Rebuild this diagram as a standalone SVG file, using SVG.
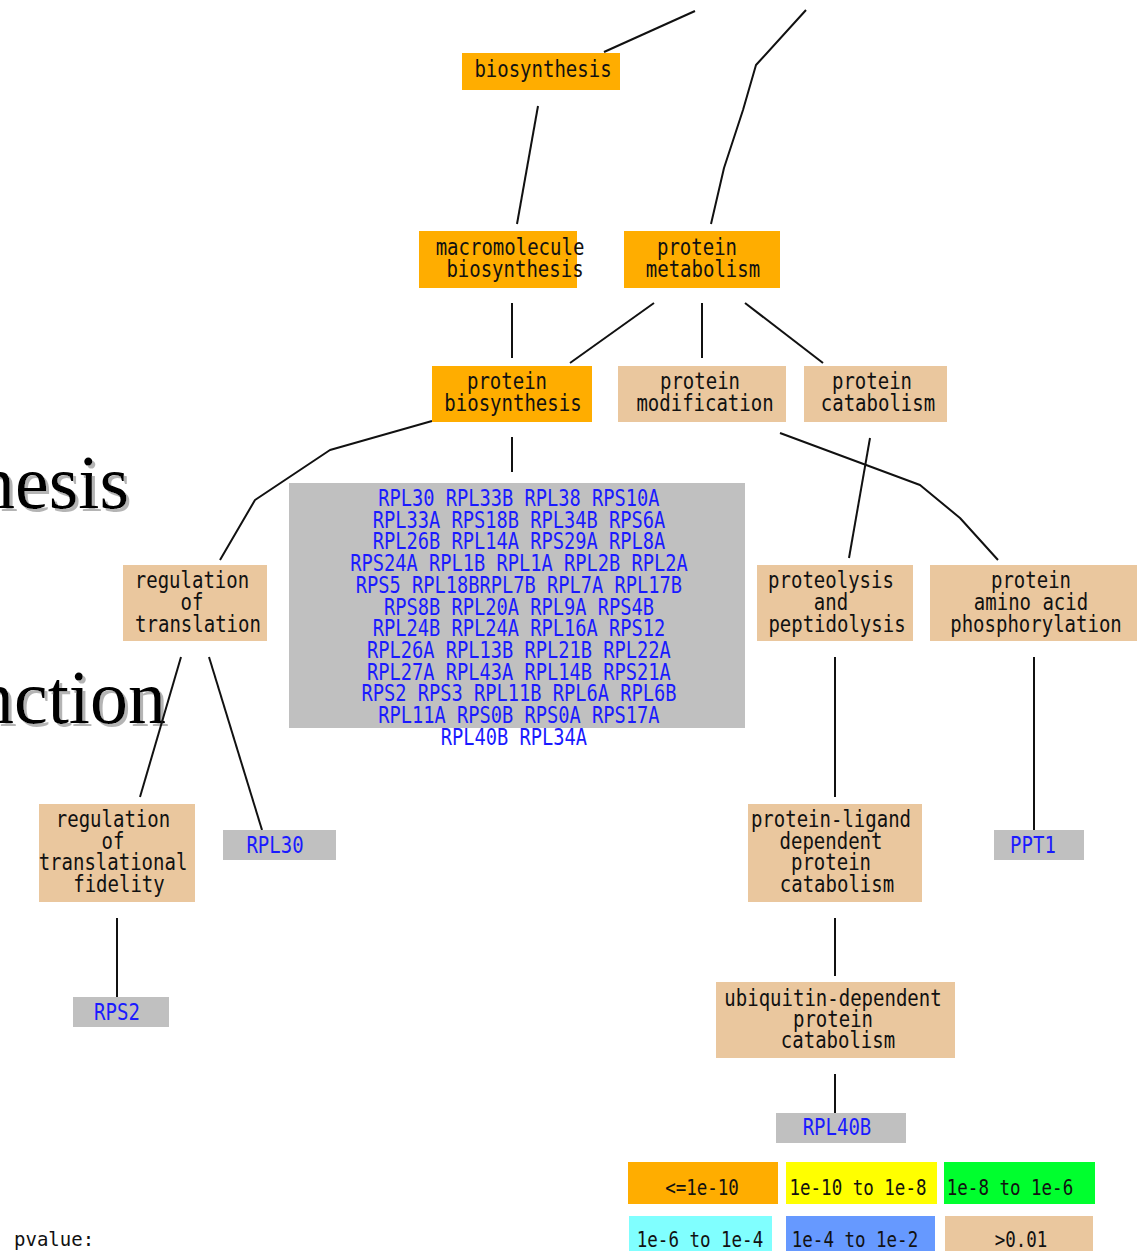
<svg xmlns="http://www.w3.org/2000/svg" width="1137" height="1251" viewBox="0 0 1137 1251">
  <style>
    .sig { fill: #ffad00; }
    .ns { fill: #eac79e; }
    .gene { fill: #c0c0c0; }
    .lbl { font-family: "DejaVu Sans Mono", "Liberation Mono", monospace; font-size: 19px; fill: #111; text-anchor: middle; }
    .glbl { font-family: "DejaVu Sans Mono", "Liberation Mono", monospace; font-size: 19px; fill: #1a1aff; text-anchor: middle; }
    .glist { font-size: 18.7px; }
    .leg { font-family: "DejaVu Sans Mono", "Liberation Mono", monospace; font-size: 17.5px; fill: #111; text-anchor: middle; }
    .big { font-family: "Liberation Serif", "Times New Roman", serif; font-size: 76px; fill: #000; filter: url(#shadow); }
    .edge { fill: none; stroke: #111; stroke-width: 2; stroke-linejoin: round; }
  </style>
  <defs>
    <filter id="shadow" x="-5%" y="-10%" width="115%" height="130%">
      <feOffset in="SourceAlpha" dx="3" dy="3" result="off"/>
      <feFlood flood-color="#b4b4b4"/>
      <feComposite in2="off" operator="in" result="sh"/>
      <feMerge><feMergeNode in="sh"/><feMergeNode in="SourceGraphic"/></feMerge>
    </filter>
  </defs>

  <rect width="1137" height="1251" fill="#ffffff"/>

  <!-- slide title fragments behind the graph -->
  <g id="title-fragments">
    <text class="big" x="-23" y="508">nesis</text>
    <text class="big" x="-24" y="723">nction</text>
  </g>

  <!-- connectors -->
  <g id="edges">
    <polyline class="edge" points="695,11 604,52"/>
    <polyline class="edge" points="806,10 756,65 743,110 724,168 711,224"/>
    <polyline class="edge" points="538,106 517,224"/>
    <polyline class="edge" points="512,303 512,358"/>
    <polyline class="edge" points="654,303 570,363"/>
    <polyline class="edge" points="702,303 702,358"/>
    <polyline class="edge" points="745,303 823,363"/>
    <polyline class="edge" points="432,421 330,450 255,500 220,560"/>
    <polyline class="edge" points="512,437 512,472"/>
    <polyline class="edge" points="780,433 920,485 960,518 998,560"/>
    <polyline class="edge" points="870,438 849,558"/>
    <polyline class="edge" points="181,657 140,797"/>
    <polyline class="edge" points="209,657 262,830"/>
    <polyline class="edge" points="117,918 117,997"/>
    <polyline class="edge" points="835,657 835,797"/>
    <polyline class="edge" points="1034,657 1034,830"/>
    <polyline class="edge" points="835,918 835,976"/>
    <polyline class="edge" points="835,1074 835,1113"/>
  </g>

  <!-- GO term nodes -->
  <g id="n-biosynthesis">
    <rect class="sig" x="462" y="53" width="158" height="37"/>
    <text class="lbl" transform="translate(0 77) scale(1 1.22)"><tspan x="543" y="0">biosynthesis</tspan></text>
  </g>

  <g id="n-macromolecule-biosynthesis">
    <rect class="sig" x="419" y="231" width="158" height="57"/>
    <text class="lbl" transform="translate(0 255) scale(1 1.22)"><tspan x="510" y="0">macromolecule</tspan><tspan x="515" y="18">biosynthesis</tspan></text>
  </g>

  <g id="n-protein-metabolism">
    <rect class="sig" x="624" y="231" width="156" height="57"/>
    <text class="lbl" transform="translate(0 255) scale(1 1.22)"><tspan x="697" y="0">protein</tspan><tspan x="703" y="18">metabolism</tspan></text>
  </g>

  <g id="n-protein-biosynthesis">
    <rect class="sig" x="432" y="366" width="160" height="56"/>
    <text class="lbl" transform="translate(0 389) scale(1 1.22)"><tspan x="507" y="0">protein</tspan><tspan x="513" y="18">biosynthesis</tspan></text>
  </g>

  <g id="n-protein-modification">
    <rect class="ns" x="618" y="366" width="168" height="56"/>
    <text class="lbl" transform="translate(0 389) scale(1 1.22)"><tspan x="700" y="0">protein</tspan><tspan x="705" y="18">modification</tspan></text>
  </g>

  <g id="n-protein-catabolism">
    <rect class="ns" x="804" y="366" width="143" height="56"/>
    <text class="lbl" transform="translate(0 389) scale(1 1.22)"><tspan x="872" y="0">protein</tspan><tspan x="878" y="18">catabolism</tspan></text>
  </g>

  <g id="genes-protein-biosynthesis">
    <rect class="gene" x="289" y="483" width="456" height="245"/>
    <text class="glbl glist" transform="translate(0 506) scale(1 1.22)"><tspan x="519" y="0">RPL30 RPL33B RPL38 RPS10A</tspan><tspan x="519" y="17.8">RPL33A RPS18B RPL34B RPS6A</tspan><tspan x="519" y="35.6">RPL26B RPL14A RPS29A RPL8A</tspan><tspan x="519" y="53.4">RPS24A RPL1B RPL1A RPL2B RPL2A</tspan><tspan x="519" y="71.2">RPS5 RPL18BRPL7B RPL7A RPL17B</tspan><tspan x="519" y="89">RPS8B RPL20A RPL9A RPS4B</tspan><tspan x="519" y="106.8">RPL24B RPL24A RPL16A RPS12</tspan><tspan x="519" y="124.6">RPL26A RPL13B RPL21B RPL22A</tspan><tspan x="519" y="142.4">RPL27A RPL43A RPL14B RPS21A</tspan><tspan x="519" y="160.2">RPS2 RPS3 RPL11B RPL6A RPL6B</tspan><tspan x="519" y="178">RPL11A RPS0B RPS0A RPS17A</tspan><tspan x="514" y="195.8">RPL40B RPL34A</tspan></text>
  </g>

  <g id="n-regulation-of-translation">
    <rect class="ns" x="123" y="565" width="144" height="76"/>
    <text class="lbl" transform="translate(0 588) scale(1 1.22)"><tspan x="192" y="0">regulation</tspan><tspan x="192" y="18">of</tspan><tspan x="198" y="36">translation</tspan></text>
  </g>

  <g id="n-proteolysis">
    <rect class="ns" x="757" y="565" width="156" height="76"/>
    <text class="lbl" transform="translate(0 588) scale(1 1.22)"><tspan x="831" y="0">proteolysis</tspan><tspan x="831" y="18">and</tspan><tspan x="837" y="36">peptidolysis</tspan></text>
  </g>

  <g id="n-phosphorylation">
    <rect class="ns" x="930" y="565" width="207" height="76"/>
    <text class="lbl" transform="translate(0 588) scale(1 1.22)"><tspan x="1031" y="0">protein</tspan><tspan x="1031" y="18">amino acid</tspan><tspan x="1036" y="36">phosphorylation</tspan></text>
  </g>

  <g id="n-translational-fidelity">
    <rect class="ns" x="39" y="804" width="156" height="98"/>
    <text class="lbl" transform="translate(0 827) scale(1 1.22)"><tspan x="113" y="0">regulation</tspan><tspan x="113" y="17.8">of</tspan><tspan x="113" y="35.6">translational</tspan><tspan x="119" y="53.4">fidelity</tspan></text>
  </g>

  <g id="genes-regulation-of-translation">
    <rect class="gene" x="223" y="830" width="113" height="30"/>
    <text class="glbl" transform="translate(0 853) scale(1 1.22)"><tspan x="275" y="0">RPL30</tspan></text>
  </g>

  <g id="n-protein-ligand">
    <rect class="ns" x="748" y="804" width="174" height="98"/>
    <text class="lbl" transform="translate(0 827) scale(1 1.22)"><tspan x="831" y="0">protein-ligand</tspan><tspan x="831" y="17.8">dependent</tspan><tspan x="831" y="35.6">protein</tspan><tspan x="837" y="53.4">catabolism</tspan></text>
  </g>

  <g id="genes-phosphorylation">
    <rect class="gene" x="994" y="830" width="90" height="30"/>
    <text class="glbl" transform="translate(0 853) scale(1 1.22)"><tspan x="1033" y="0">PPT1</tspan></text>
  </g>

  <g id="genes-translational-fidelity">
    <rect class="gene" x="73" y="997" width="96" height="30"/>
    <text class="glbl" transform="translate(0 1020) scale(1 1.22)"><tspan x="117" y="0">RPS2</tspan></text>
  </g>

  <g id="n-ubiquitin">
    <rect class="ns" x="716" y="982" width="239" height="76"/>
    <text class="lbl" transform="translate(0 1006) scale(1 1.22)"><tspan x="833" y="0">ubiquitin-dependent</tspan><tspan x="833" y="17.4">protein</tspan><tspan x="838" y="34.8">catabolism</tspan></text>
  </g>

  <g id="genes-ubiquitin">
    <rect class="gene" x="776" y="1113" width="130" height="30"/>
    <text class="glbl" transform="translate(0 1135) scale(1 1.22)"><tspan x="837" y="0">RPL40B</tspan></text>
  </g>

  <!-- p-value colour key -->
  <g id="legend">
    <text class="leg" x="14" y="1246" style="text-anchor:start;font-size:19px">pvalue:</text>
    <rect x="628" y="1162" width="150" height="42" fill="#ffad00"/>
    <text class="leg" transform="translate(0 1195) scale(1 1.22)"><tspan x="702" y="0">&lt;=1e-10</tspan></text>
    <rect x="786" y="1162" width="151" height="42" fill="#ffff00"/>
    <text class="leg" transform="translate(0 1195) scale(1 1.22)"><tspan x="858" y="0">1e-10 to 1e-8</tspan></text>
    <rect x="944" y="1162" width="151" height="42" fill="#00ff2e"/>
    <text class="leg" transform="translate(0 1195) scale(1 1.22)"><tspan x="1010" y="0">1e-8 to 1e-6</tspan></text>
    <rect x="629" y="1216" width="143" height="40" fill="#80ffff"/>
    <text class="leg" transform="translate(0 1247) scale(1 1.22)"><tspan x="700" y="0">1e-6 to 1e-4</tspan></text>
    <rect x="786" y="1216" width="149" height="40" fill="#6699ff"/>
    <text class="leg" transform="translate(0 1247) scale(1 1.22)"><tspan x="855" y="0">1e-4 to 1e-2</tspan></text>
    <rect x="945" y="1216" width="148" height="40" fill="#eac79e"/>
    <text class="leg" transform="translate(0 1247) scale(1 1.22)"><tspan x="1021" y="0">&gt;0.01</tspan></text>
  </g>
</svg>
